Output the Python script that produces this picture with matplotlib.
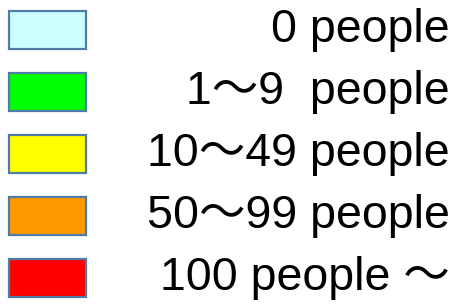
import matplotlib
matplotlib.use("Agg")
import matplotlib.pyplot as plt

# legend classes
etiquetas = ["0 people", "1～9  people", "10～49 people", "50～99 people", "100 people ～"]
colores = ["#CCFFFF", "#00FF00", "#FFFF00", "#FF9900", "#FF0000"]

plt.rcParams["font.family"] = ["Liberation Sans", "Noto Sans CJK JP", "DejaVu Sans"]

fig = plt.figure(figsize=(4.61, 3.05), dpi=100)
ax = fig.add_axes([0, 0, 1, 1])
ax.set_xlim(0, 461)
ax.set_ylim(305, 0)
ax.axis("off")

paso = 62
centros = [29.5 + i * paso for i in range(len(etiquetas))]

ax.barh(centros, 77, left=9, height=38, color=colores,
        edgecolor="#4F7BA8", linewidth=1.6)

for yc, txt in zip(centros, etiquetas):
    ax.text(450, yc + 1, txt, ha="right", va="center", fontsize=33.5, color="black")

fig.savefig("out.png", dpi=100)
